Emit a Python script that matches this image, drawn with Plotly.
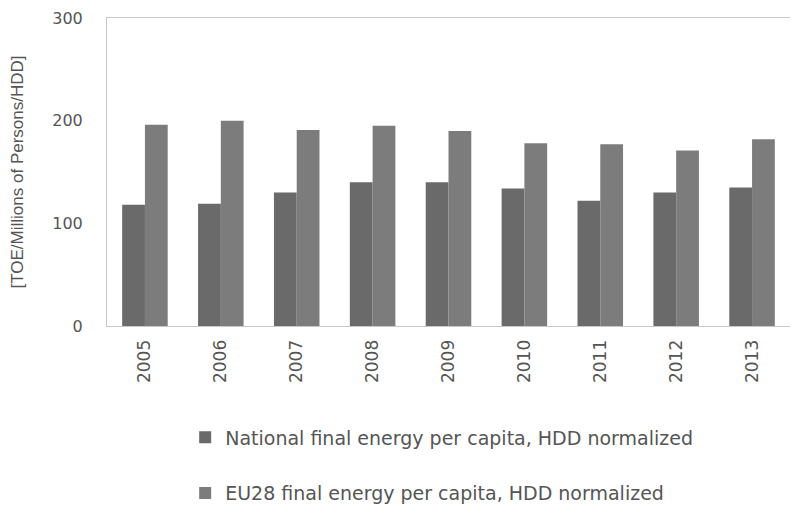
import plotly.graph_objects as go

years = ["2005", "2006", "2007", "2008", "2009", "2010", "2011", "2012", "2013"]
national = [118, 119, 130, 140, 140, 134, 122, 130, 135]
eu28 = [196, 200, 191, 195, 190, 178, 177, 171, 182]
y_ticks = [0, 100, 200, 300]

fig = go.Figure()
fig.add_trace(go.Bar(x=years, y=national, name="National final energy per capita, HDD normalized",
                     marker=dict(color="#6a6a6a", line=dict(width=0)), legendgroup="a"))
fig.add_trace(go.Bar(x=years, y=eu28, name="EU28 final energy per capita, HDD normalized",
                     marker=dict(color="#7c7c7c", line=dict(width=0)), legendgroup="b"))

# page body has an 8px default margin, so the figure is sized/offset to compensate
fig.update_layout(
    width=790, height=498,
    margin=dict(l=99, r=8, t=10, b=180, autoexpand=False),
    paper_bgcolor="white", plot_bgcolor="white",
    barmode="group", bargap=0.4, bargroupgap=0,
    font=dict(family="DejaVu Sans, sans-serif", color="#555555", size=14),
    showlegend=True,
    legend=dict(orientation="v", x=0.49, xanchor="center", y=-0.30, yanchor="top",
                font=dict(size=19, color="#555555"), tracegroupgap=28,
                traceorder="grouped"),
    xaxis=dict(showgrid=False, showline=True, linecolor="#c8c8c8", linewidth=1, mirror=True,
               tickangle=-90, ticks="", ticklabelstandoff=6,
               tickfont=dict(size=17, color="#555555")),
    yaxis=dict(range=[0, 300], tickvals=y_ticks, showgrid=False, showline=True,
               linecolor="#c8c8c8", linewidth=1, ticks="", zeroline=False,
               ticklabelstandoff=20,
               title=dict(text="[TOE/Millions of Persons/HDD]",
                          font=dict(family="Liberation Sans, Arial, sans-serif", size=17, color="#555555"),
                          standoff=24),
               tickfont=dict(size=16, color="#555555")),
)

fig.write_html("out.html")
